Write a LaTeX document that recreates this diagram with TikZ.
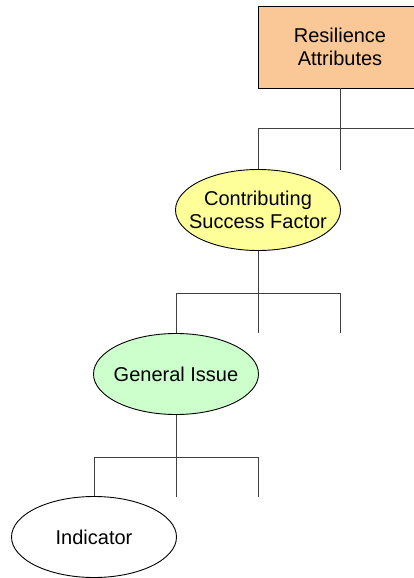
\documentclass[tikz,border=0pt]{standalone}
\usepackage{fontspec}
\setmainfont{Liberation Sans}
\usetikzlibrary{shapes.geometric}
\definecolor{peach}{HTML}{FAC896}
\definecolor{paleyellow}{HTML}{FFFF99}
\definecolor{palegreen}{HTML}{CCFFCC}
\definecolor{linegray}{HTML}{404040}
\tikzset{
  lbl/.style={font=\fontsize{20}{23}\selectfont, align=center, text=black},
  attrbox/.style={lbl, draw=black, line width=0.9pt, fill=peach, rectangle, minimum width=164, minimum height=82, inner sep=0},
  oval/.style={draw=black, line width=0.9pt, ellipse, minimum width=165, minimum height=81, inner sep=0},
  ovaltext/.style={label={[lbl]center:#1}},
  tree/.style={draw=linegray, line width=0.9pt}
}
\begin{document}
\begin{tikzpicture}[x=1pt,y=-1pt]
\useasboundingbox (0,0) rectangle (414,578);
\clip (0,0) rectangle (414,578);
% nodes
\node[attrbox] (ra) at (340,47) {Resilience\\Attributes};
\node[oval, fill=paleyellow, ovaltext={Contributing\\Success Factor}] (csf) at (258,210) {};
\node[oval, fill=palegreen, ovaltext={General Issue}] (gi) at (176,374) {};
\node[oval, fill=white, ovaltext={Indicator}] (ind) at (94,537) {};
% bracket 1
\coordinate (b1l) at (258,128);
\coordinate (b1m) at (340,128);
\coordinate (b1r) at (422,128);
\coordinate (e1m) at (340,170);
\coordinate (e1r) at (422,170);
\draw[tree] (ra.south) -- (b1m);
\draw[tree] (b1l) -- (b1r);
\draw[tree] (b1l) -- (csf.north);
\draw[tree] (b1m) -- (e1m);
\draw[tree] (b1r) -- (e1r);
% bracket 2
\coordinate (b2l) at (176,293);
\coordinate (b2m) at (258,293);
\coordinate (b2r) at (340,293);
\coordinate (e2m) at (258,333);
\coordinate (e2r) at (340,333);
\draw[tree] (csf.south) -- (b2m);
\draw[tree] (b2l) -- (b2r);
\draw[tree] (b2l) -- (gi.north);
\draw[tree] (b2m) -- (e2m);
\draw[tree] (b2r) -- (e2r);
% bracket 3
\coordinate (b3l) at (94,457);
\coordinate (b3m) at (176,457);
\coordinate (b3r) at (258,457);
\coordinate (e3m) at (176,497);
\coordinate (e3r) at (258,497);
\draw[tree] (gi.south) -- (b3m);
\draw[tree] (b3l) -- (b3r);
\draw[tree] (b3l) -- (ind.north);
\draw[tree] (b3m) -- (e3m);
\draw[tree] (b3r) -- (e3r);
\end{tikzpicture}
\end{document}
